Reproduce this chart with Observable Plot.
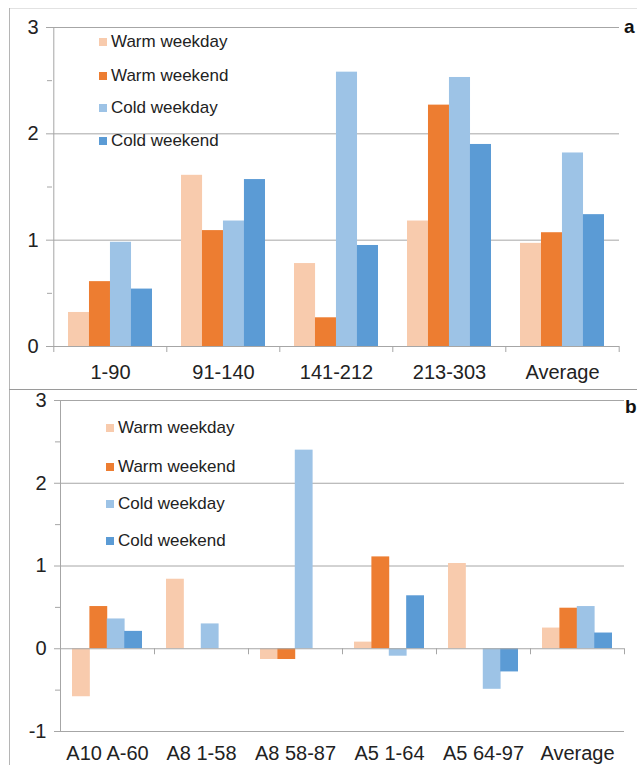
<!DOCTYPE html>
<html><head><meta charset="utf-8">
<script src="https://cdn.jsdelivr.net/npm/d3@7"></script>
<script src="https://cdn.jsdelivr.net/npm/@observablehq/plot@0.6"></script>
<style>
body{margin:0;background:#fff;font-family:"Liberation Sans",Arial,sans-serif;}
#wrap{position:relative;width:637px;height:765px;overflow:hidden;background:#fff;}
.panel{position:absolute;left:0;}
.line{position:absolute;}
.legend{position:absolute;font-size:17px;color:#222;}
.row{position:absolute;white-space:nowrap;height:20px;line-height:20px;}
.sw{position:absolute;left:0;top:6px;width:8px;height:8px;}
.lab{position:absolute;top:0;}
.tag{position:absolute;font-weight:bold;font-size:19px;color:#111;line-height:20px;}
</style>
</head><body>
<div id="wrap"></div>
<script>
// ---- data ----
const series = ["Warm weekday", "Warm weekend", "Cold weekday", "Cold weekend"];
const seriesColors = ["#F8CBAD", "#ED7D31", "#9DC3E6", "#5B9BD5"];

const catsA = ["1-90", "91-140", "141-212", "213-303", "Average"];
const warmWeekdayA = [0.32, 1.61, 0.78, 1.18, 0.97];
const warmWeekendA = [0.61, 1.09, 0.27, 2.27, 1.07];
const coldWeekdayA = [0.98, 1.18, 2.58, 2.53, 1.82];
const coldWeekendA = [0.54, 1.57, 0.95, 1.90, 1.24];
const yTicksA = [0, 1, 2, 3];
const yMinorA = [0.5, 1.5, 2.5];

const catsB = ["A10 A-60", "A8 1-58", "A8 58-87", "A5 1-64", "A5 64-97", "Average"];
const warmWeekdayB = [-0.58, 0.84, -0.13, 0.08, 1.03, 0.25];
const warmWeekendB = [0.51, 0, -0.13, 1.11, 0, 0.49];
const coldWeekdayB = [0.36, 0.30, 2.40, -0.09, -0.49, 0.51];
const coldWeekendB = [0.21, 0, 0, 0.64, -0.28, 0.19];
const yTicksB = [-1, 0, 1, 2, 3];
const yMinorB = [-0.5, 0.5, 1.5, 2.5];

const wrap = document.getElementById("wrap");
const grey = "#a6a6a6";

function makePanel(cfg) {
  const {cats, values, yTicks, yMinor, top, width, height, ml, mr, mt, mb, labelPad} = cfg;
  const n = cats.length;
  const pw = width - ml - mr;
  const step = pw / n;
  const padIn = 0.26;
  const bw = step * (1 - padIn);
  const sub = bw / 4;
  const rows = [];
  cats.forEach((c, j) => series.forEach((s, i) => rows.push({cat: c, series: s, value: values[i][j]})));
  const ydom = [yTicks[0], yTicks[yTicks.length - 1]];
  const marks = [
    Plot.ruleY(yTicks.filter(d => d !== 0), {stroke: grey, strokeWidth: 1, insetLeft: -6}),
    Plot.ruleY(yMinor, {stroke: grey, strokeWidth: 1, insetLeft: -5, insetRight: pw}),
    Plot.ruleX([cats[0]], {dx: -step / 2, stroke: grey, strokeWidth: 1}),
    ...series.map((s, i) => Plot.barY(rows.filter(r => r.series === s), {
      x: "cat", y: "value", fill: seriesColors[i],
      insetLeft: i * sub, insetRight: (3 - i) * sub
    })),
    Plot.ruleY([0], {stroke: grey, strokeWidth: 1, insetLeft: -6}),
    Plot.ruleX(cats, {x: d => d, y1: () => 0, y2: () => 0, dx: -step / 2, insetBottom: -6, stroke: grey}),
    Plot.ruleX([cats[n - 1]], {x: d => d, y1: () => 0, y2: () => 0, dx: step / 2, insetBottom: -6, stroke: grey}),
    Plot.axisX({tickSize: 0, tickPadding: labelPad, fontSize: 20, label: null}),
    Plot.axisY({ticks: yTicks, tickSize: 0, tickPadding: 14, fontSize: 20, label: null, tickFormat: d => String(d)})
  ];
  const svg = Plot.plot({
    width, height,
    marginLeft: ml, marginRight: mr, marginTop: mt, marginBottom: mb,
    style: {fontFamily: '"Liberation Sans", Arial, sans-serif', color: "#222", background: "transparent", overflow: "visible"},
    x: {type: "band", domain: cats, paddingInner: padIn, paddingOuter: padIn / 2},
    y: {domain: ydom},
    marks
  });
  const div = document.createElement("div");
  div.className = "panel";
  div.style.top = top + "px";
  div.appendChild(svg);
  wrap.appendChild(div);
}

function addLegend(left, tops) {
  const lg = document.createElement("div");
  lg.className = "legend";
  lg.style.left = left + "px";
  lg.style.top = "0px";
  series.forEach((s, i) => {
    const r = document.createElement("div");
    r.className = "row";
    r.style.top = (tops[i] - 10) + "px";
    r.innerHTML = `<span class="sw" style="background:${seriesColors[i]}"></span><span class="lab" style="left:12px">${s}</span>`;
    lg.appendChild(r);
  });
  wrap.appendChild(lg);
}

function addLine(l, t, w, h, c) {
  const d = document.createElement("div");
  d.className = "line";
  Object.assign(d.style, {left: l + "px", top: t + "px", width: w + "px", height: h + "px", background: c});
  wrap.appendChild(d);
}
function addTag(txt, l, t) {
  const d = document.createElement("div");
  d.className = "tag";
  d.textContent = txt;
  d.style.left = l + "px"; d.style.top = t + "px";
  wrap.appendChild(d);
}

makePanel({cats: catsA, values: [warmWeekdayA, warmWeekendA, coldWeekdayA, coldWeekendA],
  yTicks: yTicksA, yMinor: yMinorA, top: 0, width: 637, height: 389,
  ml: 52, mr: 18, mt: 27, mb: 43, labelPad: 18});
makePanel({cats: catsB, values: [warmWeekdayB, warmWeekendB, coldWeekdayB, coldWeekendB],
  yTicks: yTicksB, yMinor: yMinorB, top: 389, width: 637, height: 376,
  ml: 60, mr: 13, mt: 11, mb: 34, labelPad: 14});

addLegend(99, [42, 76, 108, 141]);
addLegend(106, [428, 467, 504, 541]);

addLine(9, 8, 628, 1, "#e2e2e2");
addLine(9, 8, 1, 757, "#b5b5b5");
addLine(9, 389, 628, 1, "#9a9a9a");
addTag("a", 624, 17);
addTag("b", 625, 397);
</script>
</body></html>
